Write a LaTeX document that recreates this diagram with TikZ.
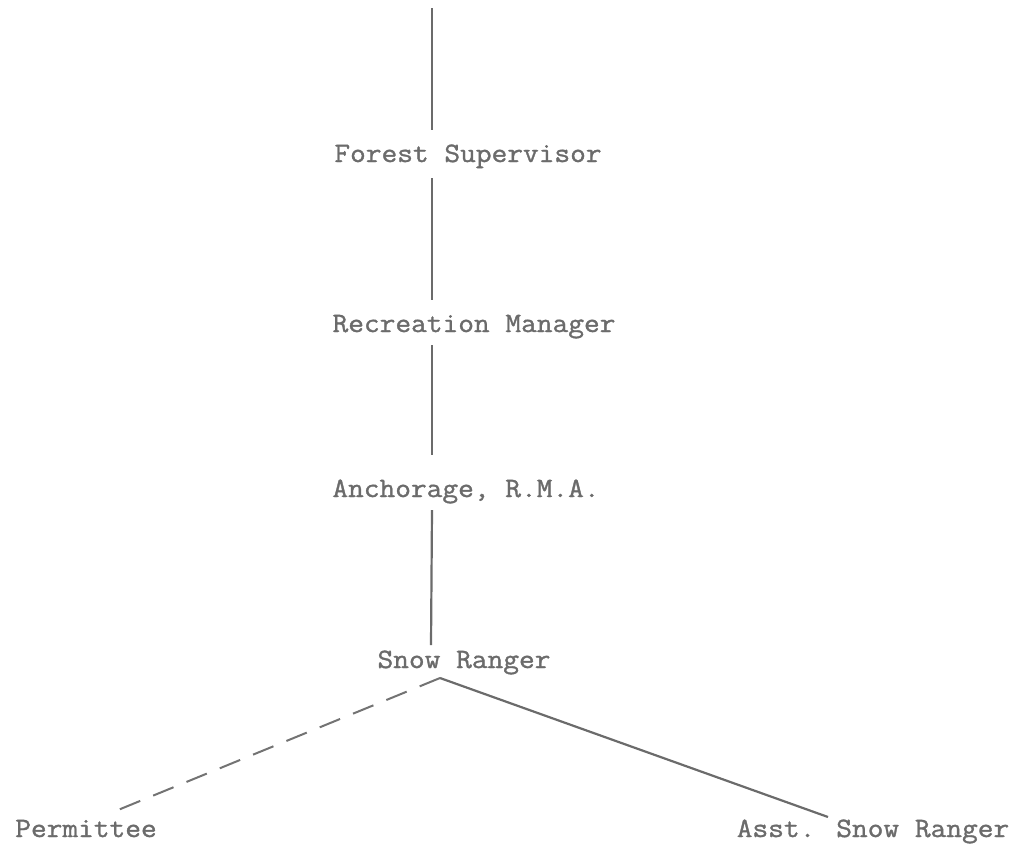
\documentclass[tikz,border=0pt]{standalone}
\usepackage{fontspec}
\newfontfamily\typewriter{Latin Modern Mono}[FakeStretch=1.09,FakeBold=1.2]
\begin{document}
\begin{tikzpicture}[x=1pt,y=-1pt,
  lbl/.style={font=\typewriter\fontsize{28}{32}\selectfont, text=black!58, inner sep=0pt, anchor=base},
  conn/.style={draw=black!58, line width=2.2pt},
  dconn/.style={draw=black!55, line width=2pt, dash pattern=on 22pt off 14pt}]
\useasboundingbox (0,0) rectangle (1019,854);
\node[lbl] (fs) at (468,162) {Forest Supervisor};
\node[lbl] (rm) at (474,332) {Recreation Manager};
\node[lbl] (an) at (466,497) {Anchorage, R.M.A.};
\node[lbl] (sr) at (464,668) {Snow Ranger};
\node[lbl] (pm) at (86,837) {Permittee};
\node[lbl] (as) at (873,837) {Asst. Snow Ranger};
\coordinate (top) at (432,8);
\coordinate (fsb) at (432,178);
\coordinate (fst) at (432,130);
\coordinate (rmt) at (432,300);
\coordinate (rmb) at (432,345);
\coordinate (ant) at (432,455);
\coordinate (anb) at (432,510);
\coordinate (srt) at (431,645);
\coordinate (apex) at (440,678);
\coordinate (pmend) at (118,810);
\coordinate (asend) at (828,817);
\draw[conn] (top) -- (fst);
\draw[conn] (fsb) -- (rmt);
\draw[conn] (rmb) -- (ant);
\draw[conn] (anb) -- (srt);
\draw[conn] (apex) -- (asend);
\draw[dconn] (apex) -- (pmend);
\end{tikzpicture}
\end{document}
